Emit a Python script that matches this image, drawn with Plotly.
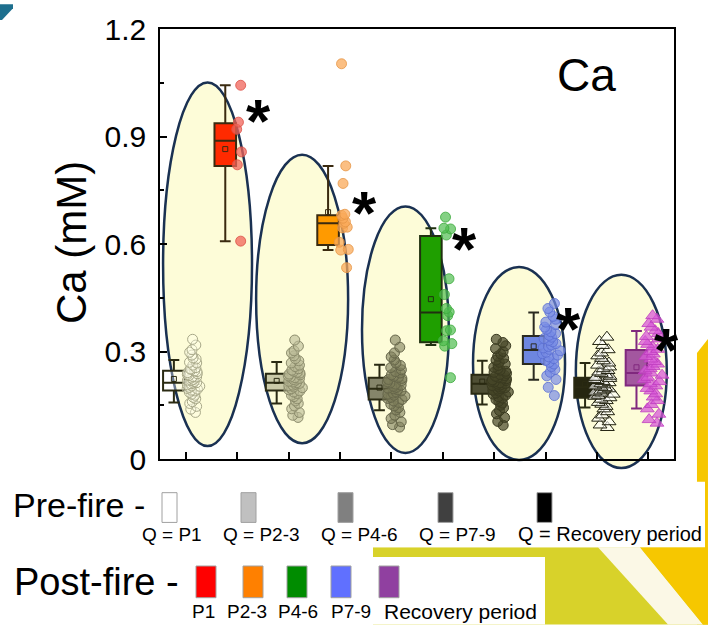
import numpy as np
import plotly.graph_objects as go

W, H = 708, 626
ML, MR, MT, MB = 160, 34, 25, 167
X_RANGE = [0.5, 10.5]
Y_RANGE = [0.0, 1.2]
FONT = "Liberation Sans, Arial, sans-serif"

periods = ["P1", "P2-3", "P4-6", "P7-9", "Recovery period"]
pre_pos = [1, 3, 5, 7, 9]
post_pos = [2, 4, 6, 8, 10]

# Ca concentrations (mM), pre-fire samples by flow quantile period
pre_p1 = [0.334, 0.318, 0.305, 0.298, 0.29, 0.282, 0.279, 0.27, 0.268, 0.262, 0.255, 0.251,
          0.25, 0.246, 0.244, 0.241, 0.238, 0.236, 0.233, 0.23, 0.229, 0.226, 0.222, 0.22,
          0.219, 0.216, 0.213, 0.212, 0.21, 0.207, 0.204, 0.203, 0.2, 0.197, 0.195, 0.192,
          0.19, 0.186, 0.181, 0.178, 0.172, 0.168, 0.16, 0.155, 0.147, 0.139, 0.13]
pre_p23 = [0.332, 0.315, 0.302, 0.296, 0.288, 0.28, 0.274, 0.268, 0.262, 0.258, 0.252, 0.248,
           0.245, 0.242, 0.24, 0.237, 0.235, 0.232, 0.229, 0.227, 0.225, 0.222, 0.22, 0.217,
           0.215, 0.213, 0.211, 0.209, 0.206, 0.204, 0.201, 0.199, 0.196, 0.193, 0.19, 0.187,
           0.183, 0.178, 0.174, 0.168, 0.162, 0.155, 0.148, 0.14, 0.13, 0.122, 0.116]
pre_p46 = [0.332, 0.312, 0.296, 0.285, 0.276, 0.268, 0.261, 0.255, 0.249, 0.244, 0.24, 0.235,
           0.231, 0.228, 0.225, 0.222, 0.219, 0.215, 0.212, 0.209, 0.206, 0.203, 0.2, 0.198,
           0.196, 0.193, 0.19, 0.187, 0.184, 0.181, 0.178, 0.175, 0.172, 0.169, 0.166, 0.162,
           0.158, 0.153, 0.148, 0.143, 0.137, 0.13, 0.122, 0.113, 0.104, 0.096, 0.089]
pre_p79 = [0.334, 0.325, 0.316, 0.308, 0.3, 0.293, 0.287, 0.281, 0.276, 0.27, 0.265, 0.261,
           0.256, 0.252, 0.248, 0.245, 0.242, 0.239, 0.236, 0.233, 0.231, 0.228, 0.226, 0.224,
           0.221, 0.219, 0.217, 0.215, 0.213, 0.211, 0.209, 0.207, 0.205, 0.203, 0.201, 0.199,
           0.197, 0.195, 0.192, 0.19, 0.187, 0.184, 0.181, 0.178, 0.174, 0.17, 0.166, 0.161,
           0.156, 0.15, 0.143, 0.135, 0.126, 0.116, 0.105, 0.094]
pre_rec = [0.34, 0.328, 0.317, 0.305, 0.296, 0.288, 0.281, 0.274, 0.268, 0.262, 0.257, 0.252,
           0.247, 0.243, 0.239, 0.235, 0.231, 0.228, 0.225, 0.222, 0.219, 0.216, 0.213, 0.21,
           0.207, 0.204, 0.201, 0.199, 0.196, 0.193, 0.19, 0.187, 0.184, 0.181, 0.178, 0.175,
           0.171, 0.167, 0.163, 0.158, 0.153, 0.147, 0.14, 0.132, 0.123, 0.114, 0.104, 0.095,
           0.088]

# Ca concentrations (mM), post-fire samples
post_p1 = [1.043, 0.94, 0.92, 0.857, 0.821, 0.608]
post_p23 = [1.103, 0.818, 0.769, 0.683, 0.68, 0.672, 0.662, 0.658, 0.647, 0.645, 0.605,
            0.585, 0.583, 0.534]
post_p46 = [0.675, 0.644, 0.642, 0.625, 0.503, 0.459, 0.42, 0.41, 0.40, 0.36, 0.358, 0.33,
            0.322, 0.315, 0.227]
post_p79 = [0.434, 0.42, 0.41, 0.398, 0.39, 0.382, 0.375, 0.368, 0.362, 0.355, 0.35, 0.345,
            0.34, 0.336, 0.331, 0.327, 0.322, 0.318, 0.314, 0.31, 0.306, 0.302, 0.298, 0.294,
            0.29, 0.285, 0.28, 0.275, 0.27, 0.265, 0.258, 0.25, 0.242, 0.232, 0.222, 0.2, 0.177]
post_rec = [0.40, 0.39, 0.378, 0.368, 0.358, 0.35, 0.342, 0.335, 0.328, 0.32, 0.313, 0.306,
            0.3, 0.293, 0.286, 0.279, 0.272, 0.265, 0.258, 0.252, 0.246, 0.24, 0.234, 0.228,
            0.222, 0.216, 0.21, 0.204, 0.197, 0.19, 0.182, 0.173, 0.163, 0.152, 0.14, 0.125,
            0.11, 0.1]

pre_data = [pre_p1, pre_p23, pre_p46, pre_p79, pre_rec]
post_data = [post_p1, post_p23, post_p46, post_p79, post_rec]

# box statistics: whisker ends, quartiles and medians
pre_lower = [0.158, 0.155, 0.136, 0.152, 0.144]
pre_q1 = [0.191, 0.191, 0.166, 0.182, 0.171]
pre_median = [0.213, 0.213, 0.196, 0.21, 0.2]
pre_q3 = [0.246, 0.238, 0.227, 0.235, 0.227]
pre_upper = [0.276, 0.271, 0.263, 0.274, 0.268]

post_lower = [0.608, 0.583, 0.318, 0.221, 0.141]
post_q1 = [0.818, 0.597, 0.326, 0.265, 0.205]
post_median = [0.888, 0.658, 0.409, 0.304, 0.24]
post_q3 = [0.937, 0.68, 0.622, 0.343, 0.304]
post_upper = [1.043, 0.818, 0.644, 0.409, 0.357]

# highlight ellipses around each period pair (axis units)
ell_x0 = [0.56, 2.37, 4.43, 6.59, 8.59]
ell_x1 = [2.29, 4.16, 6.12, 8.38, 10.36]
ell_y0 = [0.036, 0.044, 0.017, -0.003, -0.025]
ell_y1 = [1.051, 0.849, 0.705, 0.536, 0.514]

# styling
BOX_W = 0.42
BOX_SHIFT = -0.23
pre_box_fill = ["rgba(255,255,255,0.35)", "#cacaa8", "#85856a", "#4f4f35", "#262610"]
pre_box_line = ["#2a2a12"] * 5
post_box_fill = ["#ff2a00", "#ff9a00", "#1f9f00", "#6d86e0", "#a3579f"]
post_box_line = ["#3a2a10", "#3a2a10", "#203010", "#2a2a20", "#80287e"]

pre_pt_fill = ["rgba(255,255,235,0.35)", "rgba(185,185,150,0.6)", "rgba(125,125,90,0.6)",
               "rgba(70,70,40,0.7)", "rgba(255,255,255,0.6)"]
pre_pt_line = ["#a8a888", "#8c8c6c", "#66664a", "#3a3a20", "#222210"]
pre_pt_symbol = ["circle", "circle", "circle", "circle", "triangle-up"]
pre_pt_shift = [0.15, 0.14, 0.1, 0.13, 0.14]
pre_pt_width = [0.3, 0.34, 0.42, 0.42, 0.45]

post_pt_fill = ["rgba(240,100,90,0.75)", "rgba(250,170,90,0.75)", "rgba(80,190,80,0.7)",
                "rgba(120,140,230,0.7)", "rgba(215,90,215,0.75)"]
post_pt_line = ["rgba(220,80,70,0.8)", "rgba(230,150,70,0.8)", "rgba(60,170,60,0.8)",
                "rgba(90,110,210,0.8)", "rgba(190,60,190,0.8)"]
post_pt_symbol = ["circle", "circle", "circle", "circle", "triangle-up"]
post_pt_shift = [0.04, 0.08, 0.1, 0.12, 0.1]
post_pt_width = [0.12, 0.25, 0.22, 0.4, 0.4]

legend_pre_fill = ["#ffffff", "#c0c0c0", "#808080", "#404040", "#000000"]
legend_post_fill = ["#ff0000", "#ff8000", "#008c00", "#6070ff", "#9040a0"]

PW = W - ML - MR
PH = H - MT - MB


def fx(p):
    return (p - ML) / PW


def fy(p):
    return (H - MB - p) / PH


def dx(v):
    return (v - X_RANGE[0]) / (X_RANGE[1] - X_RANGE[0])


def dy(v):
    return (v - Y_RANGE[0]) / (Y_RANGE[1] - Y_RANGE[0])


def poly(points):
    return "M " + " L ".join(f"{fx(a):.4f},{fy(b):.4f}" for a, b in points) + " Z"


fig = go.Figure()

shapes = []
# page decorations outside the chart
shapes.append(dict(type="path", xref="paper", yref="paper", layer="below",
                   path=poly([(0, 0), (13, 0), (13, 4), (2, 16), (0, 16)]),
                   fillcolor="#1d6f8e", line=dict(width=0)))
shapes.append(dict(type="path", xref="paper", yref="paper", layer="below",
                   path=poly([(697, 352), (708, 338), (708, 626), (697, 626)]),
                   fillcolor="#f6c700", line=dict(width=0)))
shapes.append(dict(type="path", xref="paper", yref="paper", layer="below",
                   path=poly([(373, 548), (708, 548), (708, 626), (373, 626)]),
                   fillcolor="#d8d22a", line=dict(width=0)))
shapes.append(dict(type="path", xref="paper", yref="paper", layer="below",
                   path=poly([(598, 548), (640, 548), (703, 626), (668, 626)]),
                   fillcolor="#fbf8e6", line=dict(width=0)))
shapes.append(dict(type="path", xref="paper", yref="paper", layer="below",
                   path=poly([(640, 548), (708, 548), (708, 626), (703, 626)]),
                   fillcolor="#f6c700", line=dict(width=0)))
# white legend panels
shapes.append(dict(type="rect", xref="paper", yref="paper", layer="below",
                   x0=fx(0), x1=fx(705), y0=fy(548), y1=fy(482),
                   fillcolor="white", line=dict(width=0)))
shapes.append(dict(type="rect", xref="paper", yref="paper", layer="below",
                   x0=fx(0), x1=fx(545), y0=fy(626), y1=fy(558),
                   fillcolor="white", line=dict(width=0)))

# ellipses behind each period pair
for i in range(5):
    shapes.append(dict(type="circle", xref="paper", yref="paper", layer="below",
                       x0=dx(ell_x0[i]), x1=dx(ell_x1[i]),
                       y0=dy(ell_y0[i]), y1=dy(ell_y1[i]),
                       fillcolor="#fdfcd8", line=dict(color="#1a3152", width=2.5)))

# legend swatches
pre_sw_x = [162, 241, 338, 438, 537]
post_sw_x = [196, 243, 287, 331, 379]
for i in range(5):
    shapes.append(dict(type="rect", xref="paper", yref="paper", layer="above",
                       x0=fx(pre_sw_x[i]), x1=fx(pre_sw_x[i] + 15),
                       y0=fy(523), y1=fy(493), fillcolor=legend_pre_fill[i],
                       line=dict(color="#a0a0a0", width=1)))
    shapes.append(dict(type="rect", xref="paper", yref="paper", layer="above",
                       x0=fx(post_sw_x[i]), x1=fx(post_sw_x[i] + 20),
                       y0=fy(599), y1=fy(567), fillcolor=legend_post_fill[i],
                       line=dict(color="#a0a0a0", width=1)))

# boxes
for i in range(5):
    for pos, lo, q1, md, q3, hi, fill, line in (
        (pre_pos[i], pre_lower[i], pre_q1[i], pre_median[i], pre_q3[i], pre_upper[i],
         pre_box_fill[i], pre_box_line[i]),
        (post_pos[i], post_lower[i], post_q1[i], post_median[i], post_q3[i], post_upper[i],
         post_box_fill[i], post_box_line[i]),
    ):
        fig.add_trace(go.Box(
            x=[pos + BOX_SHIFT], q1=[q1], median=[md], q3=[q3],
            lowerfence=[lo], upperfence=[hi], width=BOX_W,
            fillcolor=fill, line=dict(color=line, width=2), whiskerwidth=0.5,
            boxpoints=False, showlegend=False, hoverinfo="skip"))

# mean markers
mean_x = []
mean_y = []
mean_c = []
for i in range(5):
    mean_x += [pre_pos[i] + BOX_SHIFT, post_pos[i] + BOX_SHIFT]
    mean_y += [float(np.mean(pre_data[i])), float(np.mean(post_data[i]))]
    mean_c += [pre_box_line[i], post_box_line[i]]
fig.add_trace(go.Scatter(x=mean_x, y=mean_y, mode="markers", showlegend=False,
                         hoverinfo="skip",
                         marker=dict(symbol="square-open", size=5, color=mean_c,
                                     line=dict(width=1))))

# sample points, jittered to the right of each box
for i in range(5):
    for pos, vals, shift, wid, fill, line, sym in (
        (pre_pos[i], pre_data[i], pre_pt_shift[i], pre_pt_width[i], pre_pt_fill[i],
         pre_pt_line[i], pre_pt_symbol[i]),
        (post_pos[i], post_data[i], post_pt_shift[i], post_pt_width[i], post_pt_fill[i],
         post_pt_line[i], post_pt_symbol[i]),
    ):
        fig.add_trace(go.Box(
            x=[pos + shift] * len(vals), y=vals, width=wid,
            boxpoints="all", jitter=0.95, pointpos=0,
            fillcolor="rgba(0,0,0,0)", line=dict(color="rgba(0,0,0,0)", width=0),
            whiskerwidth=0,
            marker=dict(symbol=sym, size=10 if sym == "circle" else 12, color=fill,
                        line=dict(color=line, width=1)),
            showlegend=False, hoverinfo="skip"))

annotations = [
    dict(text="Ca (mM)", xref="paper", yref="paper", x=fx(71), y=fy(241),
         textangle=-90, showarrow=False, font=dict(size=42, color="black", family=FONT),
         xanchor="center", yanchor="middle"),
    dict(text="Ca", xref="paper", yref="paper", x=fx(586), y=fy(71),
         showarrow=False, font=dict(size=46, color="black", family=FONT),
         xanchor="center", yanchor="middle"),
    dict(text="Pre-fire -", xref="paper", yref="paper", x=fx(11), y=fy(505),
         showarrow=False, font=dict(size=34, color="black", family=FONT),
         xanchor="left", yanchor="middle"),
    dict(text="Post-fire -", xref="paper", yref="paper", x=fx(12), y=fy(583),
         showarrow=False, font=dict(size=38, color="black", family=FONT),
         xanchor="left", yanchor="middle"),
]

# significance stars next to post-fire boxes
star_x = [2.41, 4.47, 6.43, 8.44, 10.36]
star_y = [0.965, 0.708, 0.606, 0.384, 0.326]
for sx, sy in zip(star_x, star_y):
    annotations.append(dict(text="<b>*</b>", xref="x", yref="y", x=sx, y=sy,
                            showarrow=False, xanchor="center", yanchor="middle",
                            yshift=-7,
                            font=dict(size=62, color="black", family=FONT)))

pre_lab_x = [172, 261, 359, 457, 610]
post_lab_x = [203, 247, 298, 351, 460]
lab_size = [19, 19, 19, 19, 20]
for i in range(5):
    annotations.append(dict(text=f"Q = {periods[i]}", xref="paper", yref="paper",
                            x=fx(pre_lab_x[i]), y=fy(535), showarrow=False,
                            xanchor="center", yanchor="middle",
                            font=dict(size=lab_size[i], color="black", family=FONT)))
    annotations.append(dict(text=periods[i], xref="paper", yref="paper",
                            x=fx(post_lab_x[i]), y=fy(613), showarrow=False,
                            xanchor="center", yanchor="middle",
                            font=dict(size=lab_size[i] + 1 if i == 4 else lab_size[i],
                                      color="black", family=FONT)))

fig.update_layout(
    width=W, height=H, autosize=False,
    margin=dict(l=ML, r=MR, t=MT, b=MB, pad=0),
    paper_bgcolor="white", plot_bgcolor="rgba(0,0,0,0)",
    boxmode="overlay", showlegend=False,
    shapes=shapes, annotations=annotations,
    font=dict(family=FONT, color="black"),
    xaxis=dict(range=X_RANGE, showgrid=False, zeroline=False,
               tickvals=pre_pos + post_pos, showticklabels=False,
               ticks="inside", ticklen=7, tickwidth=1.5, tickcolor="black",
               showline=True, linecolor="black", linewidth=1.5, mirror=True),
    yaxis=dict(range=Y_RANGE, showgrid=False, zeroline=False,
               tick0=0, dtick=0.3, ticks="inside", ticklen=7, tickwidth=1.5,
               tickcolor="black", tickfont=dict(size=30, family=FONT, color="black"),
               ticklabelstandoff=6,
               minor=dict(ticks="inside", ticklen=4, tickwidth=1.5, dtick=0.15,
                          tickcolor="black"),
               showline=True, linecolor="black", linewidth=1.5, mirror=True),
)

fig.write_html("out.html")
